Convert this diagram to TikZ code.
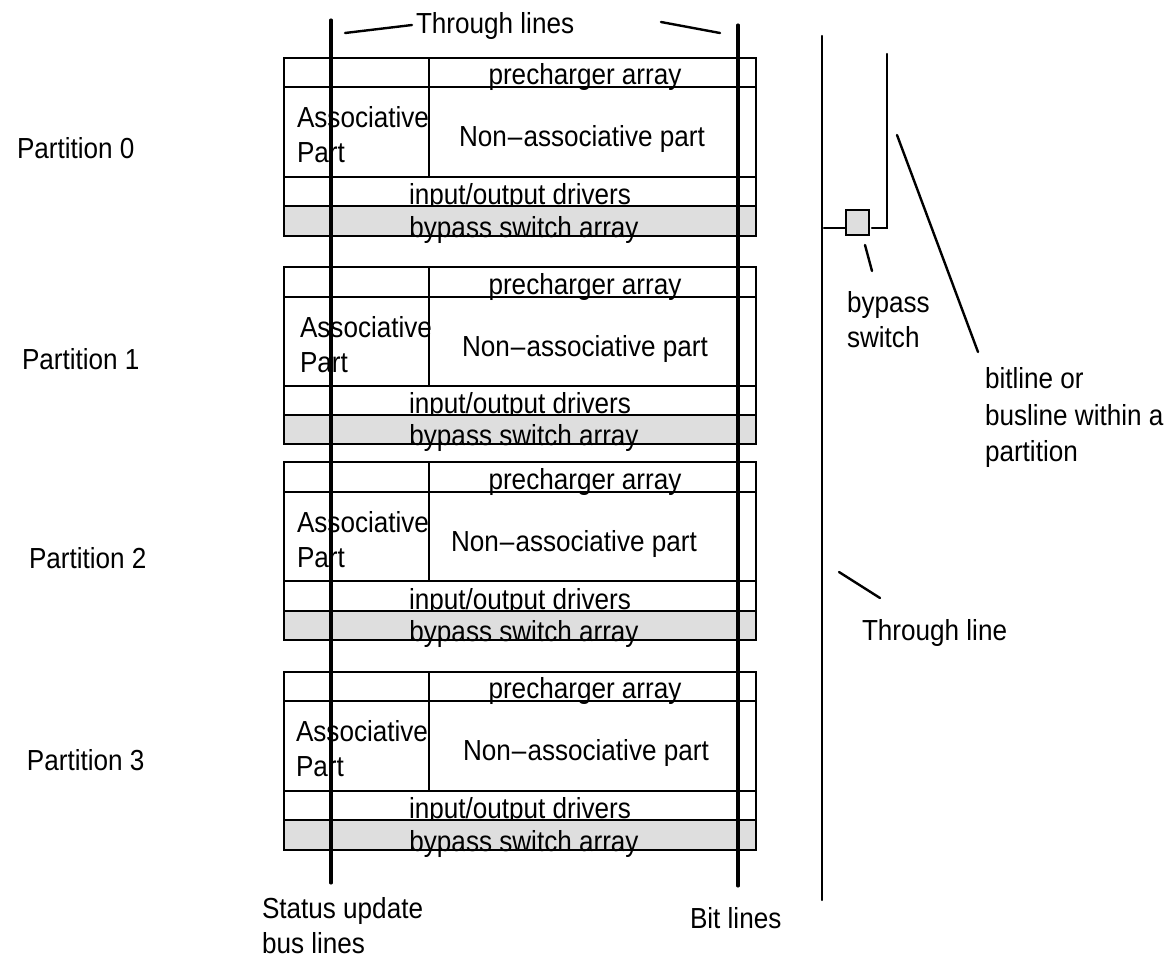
\documentclass[tikz,border=0pt]{standalone}
\usepackage{fontspec}
\setmainfont[FakeStretch=0.9]{Liberation Sans}
\definecolor{swgray}{HTML}{DEDEDE}
\tikzset{
  box/.style={draw=black,line width=2.3pt},
  grayband/.style={draw=black,line width=2.3pt,fill=swgray},
  thru/.style={line width=3.1pt,line cap=round},
  wire/.style={line width=2.4pt,line cap=round},
  lbl/.style={inner sep=0pt,outer sep=0pt,font=\fontsize{29}{29}\selectfont,anchor=base west},
  clbl/.style={inner sep=0pt,outer sep=0pt,font=\fontsize{29}{29}\selectfont,anchor=base}
}
\begin{document}
\begin{tikzpicture}[x=1pt,y=-1pt]
\useasboundingbox (0,0) rectangle (1172,959);
\foreach \t/\a/\b/\c/\d/\e/\nx/\n/\px/\py in {
  58/87/177/206/236/297/582/0/17/158,
  267/297/386/415/444/300/585/1/22/369,
  462/492/581/611/640/297/574/2/29/568,
  672/701/791/820/850/296/586/3/27/770}{
  \node[clbl] (pre\n) at (585,\a-3) {precharger array};
  \node[lbl] (as\n) at (\e,\a+40) {Associative};
  \node[lbl] (pt\n) at (\e,\a+75) {Part};
  \node[clbl] (non\n) at (\nx,\a+59) {Non\kern1pt\textendash\kern1pt associative part};
  \node[clbl] (io\n) at (520,\c-2) {input/output drivers};
  \draw[box] (284,\t) rectangle (756,\d);
  \draw[box] (284,\a) -- (756,\a);
  \draw[box] (284,\b) -- (756,\b);
  \draw[box] (429,\t) -- (429,\b);
  \draw[grayband] (284,\c) rectangle (756,\d);
  \node[clbl] (by\n) at (524,\d+1) {bypass switch array};
  \node[lbl] (par\n) at (\px,\py) {Partition \n};
}
\coordinate (s1) at (331,20); \coordinate (s2) at (331,883);
\coordinate (b1) at (738,25); \coordinate (b2) at (738,886);
\draw[thru] (s1) -- (s2);
\draw[thru] (b1) -- (b2);
\node[lbl] (tl) at (416,33) {Through lines};
\coordinate (tl1) at (345,33); \coordinate (tl2) at (412,25);
\coordinate (tr1) at (661,22); \coordinate (tr2) at (720,33);
\draw[wire] (tl1) -- (tl2);
\draw[wire] (tr1) -- (tr2);
\node[lbl] (st) at (262,918) {Status update};
\node[lbl] (st2) at (262,953) {bus lines};
\node[lbl] (bl) at (690,928) {Bit lines};
\coordinate (r1) at (822,36); \coordinate (r2) at (822,900);
\draw[wire] (r1) -- (r2);
\node[draw=black,line width=2.3pt,fill=swgray,minimum width=23pt,minimum height=25pt,inner sep=0pt,outer sep=1pt] (sw) at (857.5,222.5) {};
\coordinate (w0) at (824,228); \coordinate (w1) at (872,228);
\coordinate (w2) at (887,228); \coordinate (w3) at (887,54);
\draw[wire] (w0) -- (sw.west |- w0);
\draw[wire,line join=miter] (w1) -- (w2) -- (w3);
\coordinate (lb1) at (865,245); \coordinate (lb2) at (872,271);
\draw[wire] (lb1) -- (lb2);
\coordinate (ll1) at (897,135); \coordinate (ll2) at (978,352);
\draw[wire] (ll1) -- (ll2);
\coordinate (tt1) at (839,572); \coordinate (tt2) at (880,598);
\draw[wire] (tt1) -- (tt2);
\node[lbl] (bs) at (847,312) {bypass};
\node[lbl] (bs2) at (847,347) {switch};
\node[lbl] (bo) at (985,388) {bitline or};
\node[lbl] (bo2) at (985,425) {busline within a};
\node[lbl] (bo3) at (985,461) {partition};
\node[lbl] (tn) at (862,640) {Through line};
\end{tikzpicture}
\end{document}
